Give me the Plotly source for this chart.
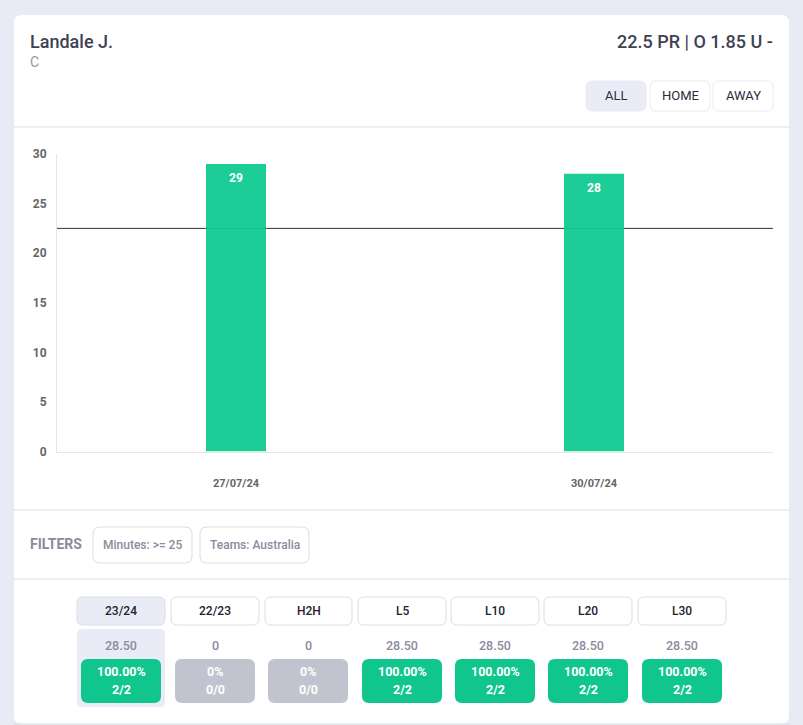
import plotly.graph_objects as go

W, H = 803, 725

# --- data ---
dates = ["27/07/24", "30/07/24"]
points = [29, 28]
line_value = 22.5
y_ticks = [0, 5, 10, 15, 20, 25, 30]
player = "Landale J."
position = "C"
market = "22.5 PR | O 1.85 U -"
venue_labels = ["ALL", "HOME", "AWAY"]
filter_labels = ["Minutes: >= 25", "Teams: Australia"]
tab_labels = ["23/24", "22/23", "H2H", "L5", "L10", "L20", "L30"]
tab_avgs = ["28.50", "0", "0", "28.50", "28.50", "28.50", "28.50"]
tab_pcts = ["100.00%", "0%", "0%", "100.00%", "100.00%", "100.00%", "100.00%"]
tab_fracs = ["2/2", "0/0", "0/0", "2/2", "2/2", "2/2", "2/2"]

# --- layout geometry (pixels from the top-left of the page) ---
venue_boxes = [(586, 646), (650, 710), (713, 773)]
filter_boxes = [(93, 192), (200, 309)]
tab_boxes = [(77, 165), (171, 259), (265, 352), (358, 446), (451, 539), (544, 632), (638, 726)]
badge_boxes = [(81, 161), (175, 255), (268, 348), (362, 442), (455, 535), (548, 628), (642, 722)]
PL, PR, PT, PB = 57, 773, 154, 451.5

FONT = "Roboto, sans-serif"
GREEN = "#10c68c"
GREY = "#c1c3ce"
HILITE = "#e9ecf6"
BORDER = "#dcdde3"
MUTED = "#8b8a9e"
DARK = "#3f4254"


def fx(x):
    return x / W


def fy(y):
    return 1 - y / H


def rrect(x0, y0, x1, y1, r, fill, line=None):
    p = (
        f"M {fx(x0 + r)} {fy(y0)} L {fx(x1 - r)} {fy(y0)} "
        f"Q {fx(x1)} {fy(y0)} {fx(x1)} {fy(y0 + r)} L {fx(x1)} {fy(y1 - r)} "
        f"Q {fx(x1)} {fy(y1)} {fx(x1 - r)} {fy(y1)} L {fx(x0 + r)} {fy(y1)} "
        f"Q {fx(x0)} {fy(y1)} {fx(x0)} {fy(y1 - r)} L {fx(x0)} {fy(y0 + r)} "
        f"Q {fx(x0)} {fy(y0)} {fx(x0 + r)} {fy(y0)} Z"
    )
    return dict(
        type="path", xref="paper", yref="paper", path=p, fillcolor=fill, layer="below",
        line=dict(color=line or fill, width=1 if line else 0),
    )


def hline(y, x0=14, x1=789):
    return dict(type="line", xref="paper", yref="paper", x0=fx(x0), x1=fx(x1), y0=fy(y), y1=fy(y),
                line=dict(color=BORDER, width=1), layer="below")


def label(x, y, text, size, color, anchor="center", weight=400):
    # annotations carry about 2px of inner padding; cancel it for edge-anchored text
    shift = {"left": -2, "right": 2, "center": 0}[anchor]
    return dict(xref="paper", yref="paper", x=fx(x), y=fy(y), text=text, showarrow=False, xshift=shift,
                xanchor=anchor, yanchor="middle", align=anchor,
                font=dict(family=FONT, size=size, color=color, weight=weight))


shapes = [rrect(14, 15, 789, 724, 8, "#ffffff")]
shapes += [hline(y) for y in (127, 510, 579, 724)]
annotations = [
    label(30, 41, player, 18, DARK, "left", 500),
    label(30, 62, position, 14, "#9a9aa5", "left"),
    label(773, 41, market, 18, DARK, "right", 500),
    label(30, 544, "FILTERS", 14, MUTED, "left", 700),
]

for i, ((a, b), t) in enumerate(zip(venue_boxes, venue_labels)):
    shapes.append(rrect(a, 81, b, 111, 6, HILITE if i == 0 else "#ffffff", HILITE if i == 0 else "#eaebef"))
    annotations.append(label((a + b) / 2, 96, t, 13, "#2b2b3a", weight=400))

for (a, b), t in zip(filter_boxes, filter_labels):
    shapes.append(rrect(a, 527, b, 563, 7, "#ffffff", BORDER))
    annotations.append(label((a + b) / 2, 545, t, 12, MUTED, weight=500))

shapes.append(rrect(77, 629, 165, 707, 5, HILITE))
for i, lab in enumerate(tab_labels):
    a, b = tab_boxes[i]
    c, d = badge_boxes[i]
    shapes.append(rrect(a, 597, b, 625, 6, HILITE if i == 0 else "#ffffff", BORDER))
    on = tab_pcts[i] != "0%"
    shapes.append(rrect(c, 659, d, 703, 7, GREEN if on else GREY))
    mid = (a + b) / 2
    annotations += [
        label(mid, 611, lab, 12, "#22222e", weight=500),
        label(mid, 645, tab_avgs[i], 12.5, MUTED, weight=500),
        label((c + d) / 2, 671, tab_pcts[i], 12.5, "#ffffff", weight=700),
        label((c + d) / 2, 689, tab_fracs[i], 12.5, "#ffffff", weight=700),
    ]

# threshold line, visible faintly through the bars
shapes.append(dict(type="line", xref="paper", yref="y", x0=fx(PL), x1=fx(PR),
                   y0=line_value, y1=line_value, line=dict(color="#333333", width=1), layer="below"))

# value labels just inside the top of each bar
for d, v in zip(dates, points):
    annotations.append(dict(xref="x", yref="y", x=d, y=v, text=str(v), showarrow=False, yshift=-14,
                            xanchor="center", yanchor="middle",
                            font=dict(family=FONT, size=12, color="#ffffff", weight=700)))

fig = go.Figure(
    go.Bar(x=dates, y=points, width=60 / 358, marker=dict(color="rgba(14,202,145,0.94)", line=dict(width=0)),
           hoverinfo="x+y", showlegend=False)
)
fig.update_layout(
    template="none",
    width=W, height=H, autosize=False, margin=dict(l=0, r=0, t=0, b=0, pad=0),
    paper_bgcolor="#e8ebf6", plot_bgcolor="rgba(0,0,0,0)",
    font=dict(family=FONT), shapes=shapes, annotations=annotations, showlegend=False,
    xaxis=dict(domain=[fx(PL), fx(PR)], type="category", showgrid=False, zeroline=False, automargin=False,
               showline=True, linecolor="#e6e6e6", linewidth=1,
               ticks="outside", ticklen=21, tickcolor="rgba(0,0,0,0)",
               tickfont=dict(family=FONT, size=11, color="#666666", weight=700)),
    yaxis=dict(domain=[fy(PB), fy(PT)], range=[0, 30], tickvals=y_ticks, showgrid=False, zeroline=False,
               automargin=False, showline=True, linecolor="#e6e6e6", linewidth=1,
               ticks="outside", ticklen=7, tickcolor="rgba(0,0,0,0)",
               tickfont=dict(family=FONT, size=12, color="#666666", weight=700)),
)

fig.write_html(
    "out.html",
    config={"displayModeBar": False},
    post_script="document.body.style.margin='0';document.documentElement.style.overflow='hidden';",
)
